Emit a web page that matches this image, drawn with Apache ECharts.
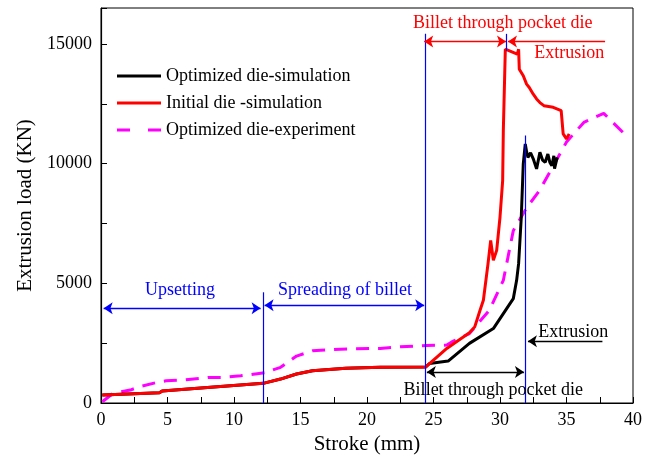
<!DOCTYPE html>
<html>
<head>
<meta charset="utf-8">
<script src="https://cdn.jsdelivr.net/npm/echarts@6/dist/echarts.min.js"></script>
<style>
  html, body { margin: 0; padding: 0; background: #fff; }
  #main { width: 661px; height: 461px; }
</style>
</head>
<body>
<div id="main"></div>
<script>
// optimized die - simulation (black)
const strokeOpt = [0.1, 4.4, 4.6, 8, 12.2, 13.5, 14.7, 15.9, 18.4, 21, 24.4, 24.7, 26.1, 27.7, 29.5, 30.5, 31.0, 31.25, 31.4, 31.6, 31.75, 31.9, 32.0, 32.1, 32.3, 32.5, 32.75, 33.0, 33.2, 33.4, 33.6, 33.75, 33.9, 34.05, 34.1, 34.3]
const loadOpt = [330, 430, 500, 650, 820, 1000, 1210, 1350, 1450, 1490, 1500, 1650, 1750, 2490, 3110, 3945, 4360, 5125, 5820, 7760, 9990, 10820, 10500, 10260, 10450, 10200, 9780, 10470, 10150, 10055, 10400, 10050, 9917, 10330, 9790, 10260]

// initial die - simulation (red)
const strokeInit = [0.1, 4.4, 4.6, 8, 12.2, 13.5, 14.7, 15.9, 18.4, 21, 24.4, 26.0, 27.7, 28.1, 28.5, 28.75, 29.1, 29.3, 29.5, 29.75, 30.0, 30.2, 30.25, 30.4, 31.3, 31.4, 31.45, 31.75, 32.0, 32.2, 32.5, 32.75, 33.0, 33.3, 34.0, 34.6, 34.75, 35.0, 35.2]
const loadInit = [330, 430, 500, 650, 820, 1000, 1210, 1350, 1450, 1490, 1500, 2280, 2930, 3180, 3875, 4290, 5820, 6790, 5960, 6375, 7760, 9290, 11375, 14780, 14570, 14780, 13945, 13670, 13320, 13180, 12900, 12700, 12550, 12420, 12350, 12210, 11240, 11030, 11240]

// optimized die - experiment (magenta, dashed)
const strokeExp = [0.1, 0.9, 2.2, 2.9, 4.2, 4.9, 6.2, 8.2, 9.0, 10.5, 12.3, 13.5, 14.7, 15.9, 18, 21, 22.5, 24.5, 26.0, 26.4, 27.7, 29.2, 30.25, 31.0, 32.0, 33.0, 34.0, 35.0, 36.3, 37.8, 39.7]
const loadExp = [50, 400, 540, 680, 860, 930, 960, 1070, 1070, 1140, 1260, 1490, 1960, 2180, 2250, 2280, 2350, 2400, 2420, 2560, 2900, 3875, 5125, 7200, 8150, 8900, 9900, 10900, 11720, 12100, 11050]

const seriesNames = ['Optimized die-simulation', 'Initial die -simulation', 'Optimized die-experiment']

// stage boundaries: [stroke, load from, load to]
const stageLines = [[12.2, 0, 4625], [24.4, 0, 15420], [31.9, 0, 11170], [30.5, 14710, 15420]]
// arrows: [x1, x2, load, colour, both ends]
const stageArrows = [
  [0.2, 12.0, 3960, '#0000ff', true],
  [12.3, 24.3, 4080, '#0000ff', true],
  [24.5, 31.8, 1290, '#000000', true],
  [37.7, 32.1, 2580, '#000000', false],
  [24.3, 30.45, 15100, '#ff0000', true],
  [37.9, 30.6, 15100, '#ff0000', false]
]
// texts: [text, x, load, colour]
const stageTexts = [
  ['Upsetting', 5.94, 4710, '#0000ff'],
  ['Spreading of billet', 18.35, 4710, '#0000ff'],
  ['Billet through pocket die', 29.5, 540, '#000000'],
  ['Extrusion', 35.5, 2960, '#000000'],
  ['Billet through pocket die', 30.2, 15875, '#ff0000'],
  ['Extrusion', 35.2, 14625, '#ff0000']
]

const zip = (xs, ys) => xs.map((x, i) => [x, ys[i]])
const font = 'Liberation Serif'
const solidIcon = 'path://M0,0 H44 V3 H0 Z'
const dashIcon = 'path://M0,0 H13 V3 H0 Z M31,0 H44 V3 H31 Z'

const markLines = []
stageLines.forEach(l => {
  const ls = { color: '#0000ff', width: 1.2, type: 'solid' }
  markLines.push([
    { coord: [l[0], l[1]], lineStyle: ls },
    { coord: [l[0], l[2]], lineStyle: ls }
  ])
})
stageArrows.forEach(a => {
  const ls = { color: a[3], width: 1.3, type: 'solid' }
  markLines.push([
    { coord: [a[0], a[2]], symbol: a[4] ? 'arrow' : 'none', lineStyle: ls, itemStyle: { color: a[3] } },
    { coord: [a[1], a[2]], symbol: 'arrow', lineStyle: ls, itemStyle: { color: a[3] } }
  ])
})

const dom = document.getElementById('main')
const myChart = echarts.init(dom)
const option = {
  animation: false,
  textStyle: { fontFamily: font },
  grid: { left: 101, right: 28, top: 8, bottom: 58, show: true, borderColor: '#000', borderWidth: 1 },
  legend: {
    orient: 'vertical',
    left: 112,
    top: 62,
    itemWidth: 44,
    itemHeight: 3,
    itemGap: 9,
    textStyle: { fontFamily: font, fontSize: 18, color: '#000' },
    data: [
      { name: seriesNames[0], icon: solidIcon },
      { name: seriesNames[1], icon: solidIcon },
      { name: seriesNames[2], icon: dashIcon }
    ]
  },
  xAxis: {
    type: 'value',
    min: 0,
    max: 40,
    interval: 5,
    name: 'Stroke (mm)',
    nameLocation: 'middle',
    nameGap: 24,
    nameTextStyle: { fontFamily: font, fontSize: 21, color: '#000' },
    axisLine: { lineStyle: { color: '#000', width: 1.2 } },
    axisTick: { inside: true, length: 6, lineStyle: { color: '#000' } },
    minorTick: { show: true, splitNumber: 2, length: 6, lineStyle: { color: '#000' } },
    axisLabel: { fontFamily: font, fontSize: 18, color: '#000', margin: 8 },
    splitLine: { show: false }
  },
  yAxis: {
    type: 'value',
    min: 0,
    max: 16500,
    interval: 5000,
    name: 'Extrusion load (KN)',
    nameLocation: 'middle',
    nameGap: 52,
    nameTextStyle: { fontFamily: font, fontSize: 21, color: '#000' },
    axisLine: { lineStyle: { color: '#000', width: 1.2 } },
    axisTick: { inside: true, length: 6, lineStyle: { color: '#000' } },
    minorTick: { show: true, splitNumber: 2, length: 6, lineStyle: { color: '#000' } },
    axisLabel: { fontFamily: font, fontSize: 18, color: '#000', margin: 9, showMaxLabel: false, formatter: v => String(v) },
    splitLine: { show: false }
  },
  series: [
    {
      name: seriesNames[0],
      type: 'line',
      data: zip(strokeOpt, loadOpt),
      symbol: 'none',
      color: '#000000',
      lineStyle: { color: '#000000', width: 3 },
      z: 3
    },
    {
      name: seriesNames[1],
      type: 'line',
      data: zip(strokeInit, loadInit),
      symbol: 'none',
      color: '#ff0000',
      lineStyle: { color: '#ff0000', width: 3 },
      z: 4
    },
    {
      name: seriesNames[2],
      type: 'line',
      data: zip(strokeExp, loadExp),
      symbol: 'none',
      color: '#ff00ff',
      lineStyle: { color: '#ff00ff', width: 3, type: [13, 9] },
      z: 2,
      markLine: {
        silent: true,
        symbol: 'none',
        symbolSize: [9, 9],
        label: { show: false },
        data: markLines
      }
    }
  ]
}
myChart.setOption(option)

// annotation texts placed through the chart's own coordinate system
const graphics = stageTexts.map(t => {
  const p = myChart.convertToPixel({ gridIndex: 0 }, [t[1], t[2]])
  return {
    type: 'text',
    x: p[0],
    y: p[1],
    style: { text: t[0], fill: t[3], font: '18px "Liberation Serif"', align: 'center', verticalAlign: 'middle' },
    z: 10
  }
})
myChart.setOption({ graphic: graphics })
</script>
</body>
</html>
